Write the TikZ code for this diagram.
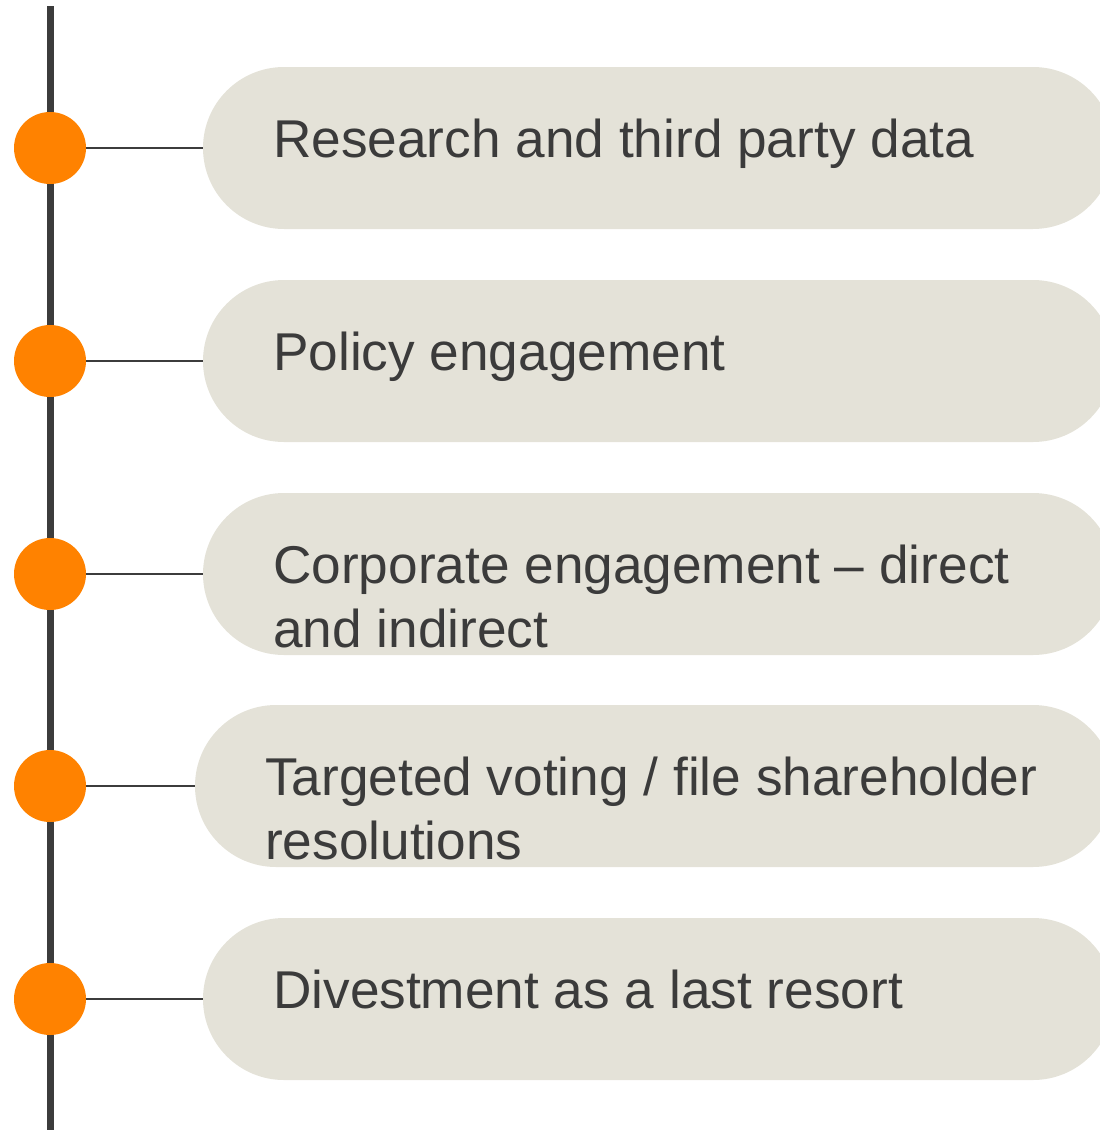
\documentclass[tikz,border=0pt]{standalone}
\usepackage{fontspec}
\setmainfont{Liberation Sans}
\definecolor{orangedot}{HTML}{FF8200}
\definecolor{pillfill}{HTML}{E4E2D8}
\definecolor{darkline}{HTML}{3C3C3C}
\definecolor{textgray}{HTML}{3B3B3B}
\begin{document}
\begin{tikzpicture}[x=1pt,y=1pt,
  dot/.style={circle,fill=orangedot,minimum size=72pt,inner sep=0pt},
  pill/.style={fill=pillfill,rounded corners=81pt},
  label/.style={anchor=base west,inner sep=0pt,align=left,text=textgray,
    font=\fontsize{53.2}{64}\selectfont},
  link/.style={draw=darkline,line width=2pt}]
\useasboundingbox (0,0) rectangle (1100,-1130);
\clip (0,0) rectangle (1100,-1130);
% spine
\coordinate (top) at (50,-6);
\coordinate (bottom) at (50,-1130);
\draw[darkline,line width=7pt] (top) -- (bottom);
% pills
\foreach \i/\cy/\px in {1/148/203,2/361/203,3/574/203,4/786/195,5/999/203}{
  \fill[pill] (\px,-\cy+81) rectangle (1114,-\cy-81);
  \coordinate (p\i) at (\px,-\cy);
  \node[dot] (c\i) at (50,-\cy) {};
  \draw[link] (c\i.east) -- (p\i);
}
\node[label] (t1) at (273,-157) {Research and third party data};
\node[label] (t2) at (273,-370) {Policy engagement};
\node[label] (t3) at (273,-647) {Corporate engagement – direct\\and indirect};
\node[label] (t4) at (265,-859) {Targeted voting / file shareholder\\resolutions};
\node[label] (t5) at (273,-1008) {Divestment as a last resort};
\end{tikzpicture}
\end{document}
